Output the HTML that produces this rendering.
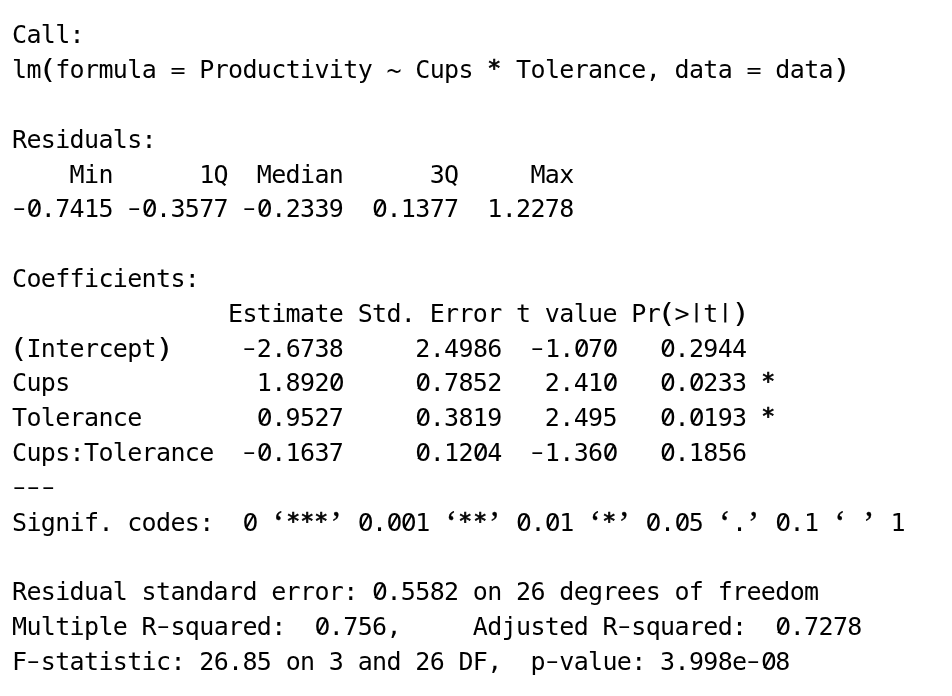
<!DOCTYPE html>
<html><head><meta charset="utf-8">
<style>
html,body{margin:0;padding:0;background:#fff;}
body{width:952px;height:696px;overflow:hidden;position:relative;}
pre{position:absolute;left:12px;top:18.3px;margin:0;font-family:"DejaVu Sans Mono","Liberation Mono",monospace;font-size:25px;letter-spacing:-0.65px;line-height:34.8125px;color:#000;white-space:pre;tab-size:8;}
pre span{display:inline-block;line-height:1;vertical-align:baseline;}
.h{transform:translate(-0.4px,-0.7px) scale(1.53,0.85);}
.v{transform:translateY(-2px) scaleY(0.757);}
.l{transform:translateX(-1.2px) scale(1.3,1.03);}
.r{transform:translateX(1.2px) scale(1.3,1.03);}
.a{transform:translate(-0.25px,-1.45px) scale(0.93,0.92);-webkit-text-stroke:0.8px #000;}
.q{font-family:"Liberation Serif",serif;font-size:33px;width:14.4px;letter-spacing:0;text-align:center;-webkit-text-stroke:0.35px #000;line-height:25px;transform:translateY(2.9px);}
.z{position:relative;font-family:"DejaVu Sans","Liberation Sans",sans-serif;width:14.4px;letter-spacing:0;text-align:center;}
.z::after{content:"";position:absolute;left:6.1px;top:4.6px;width:2.2px;height:15px;background:#000;transform:rotate(29.6deg);}
.t{transform:translateY(1.4px);}
.e{transform:translateY(0.8px) scaleY(0.88);}
</style></head><body>
<pre>Call:
lm<span class="l">(</span>formula <span class="e">=</span> Productivity <span class="t">~</span> Cups <span class="a">*</span> Tolerance, data <span class="e">=</span> data<span class="r">)</span>

Residuals:
    Min      1Q  Median      3Q     Max 
<span class="h">-</span><span class="z">0</span>.7415 <span class="h">-</span><span class="z">0</span>.3577 <span class="h">-</span><span class="z">0</span>.2339  <span class="z">0</span>.1377  1.2278 

Coefficients:
               Estimate Std. Error t value Pr<span class="l">(</span>&gt;<span class="v">|</span>t<span class="v">|</span><span class="r">)</span>  
<span class="l">(</span>Intercept<span class="r">)</span>     <span class="h">-</span>2.6738     2.4986  <span class="h">-</span>1.<span class="z">0</span>7<span class="z">0</span>   <span class="z">0</span>.2944  
Cups             1.892<span class="z">0</span>     <span class="z">0</span>.7852   2.41<span class="z">0</span>   <span class="z">0</span>.<span class="z">0</span>233 <span class="a">*</span>
Tolerance        <span class="z">0</span>.9527     <span class="z">0</span>.3819   2.495   <span class="z">0</span>.<span class="z">0</span>193 <span class="a">*</span>
Cups:Tolerance  <span class="h">-</span><span class="z">0</span>.1637     <span class="z">0</span>.12<span class="z">0</span>4  <span class="h">-</span>1.36<span class="z">0</span>   <span class="z">0</span>.1856  
<span class="h">-</span><span class="h">-</span><span class="h">-</span>
Signif. codes:  <span class="z">0</span> <span class="q">‘</span><span class="a">*</span><span class="a">*</span><span class="a">*</span><span class="q">’</span> <span class="z">0</span>.<span class="z">0</span><span class="z">0</span>1 <span class="q">‘</span><span class="a">*</span><span class="a">*</span><span class="q">’</span> <span class="z">0</span>.<span class="z">0</span>1 <span class="q">‘</span><span class="a">*</span><span class="q">’</span> <span class="z">0</span>.<span class="z">0</span>5 <span class="q">‘</span>.<span class="q">’</span> <span class="z">0</span>.1 <span class="q">‘</span> <span class="q">’</span> 1

Residual standard error: <span class="z">0</span>.5582 on 26 degrees of freedom
Multiple R<span class="h">-</span>squared:  <span class="z">0</span>.756,	Adjusted R<span class="h">-</span>squared:  <span class="z">0</span>.7278 
F<span class="h">-</span>statistic: 26.85 on 3 and 26 DF,  p<span class="h">-</span>value: 3.998e<span class="h">-</span><span class="z">0</span>8</pre>
</body></html>
